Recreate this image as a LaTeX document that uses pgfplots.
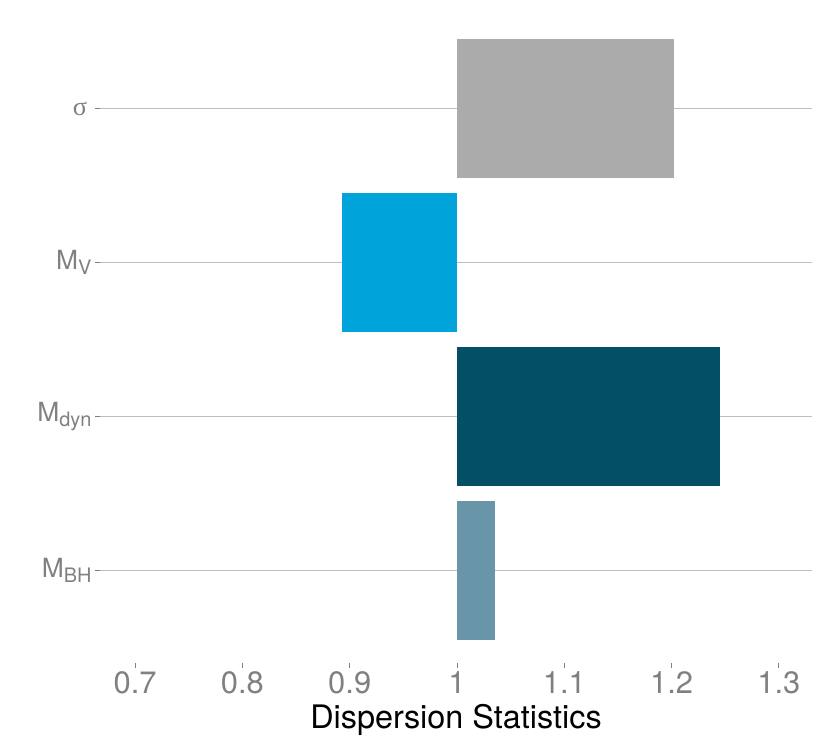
\documentclass[border=0pt]{standalone}
\usepackage{pgfplots}
\pgfplotsset{compat=1.18}
\usepackage{fontspec}
\setmainfont{TeX Gyre Heros}
\newfontfamily\serifsig{Liberation Serif}
\definecolor{gridc}{HTML}{BEBEBE}
\definecolor{tickc}{HTML}{808080}
\definecolor{csig}{HTML}{ABABAB}
\definecolor{cmv}{HTML}{00A3DA}
\definecolor{cdyn}{HTML}{024F66}
\definecolor{cbh}{HTML}{6895A8}
\newcommand{\sub}[1]{\raisebox{-5bp}{\fontsize{20}{20}\selectfont #1}}
\begin{document}
\begin{tikzpicture}
\path[use as bounding box] (0,0) rectangle (830bp,738bp);
\begin{axis}[
  at={(100bp,75bp)}, anchor=south west,
  scale only axis, width=712bp, height=646.8bp,
  xmin=0.6673, xmax=1.3308, ymin=0.4, ymax=4.6,
  axis x line*=bottom, axis y line*=left,
  axis line style={draw=none},
  tick align=outside, major tick length=5bp,
  tick style={tickc, line width=1bp},
  xtick={0.7,0.8,0.9,1,1.1,1.2,1.3},
  xticklabels={0.7,0.8,0.9,1,1.1,1.2,1.3},
  ytick={1,2,3,4},
  yticklabels={M\sub{BH}, M\sub{dyn}, M\sub{V}, {\serifsig σ\,}},
  ymajorgrids, major grid style={gridc, line width=1.4bp},
  xticklabel style={tickc, font=\fontsize{31}{31}\selectfont},
  yticklabel style={tickc, font=\fontsize{26.5}{26.5}\selectfont},
  xlabel={Dispersion Statistics},
  xlabel style={black, font=\fontsize{32.5}{32.5}\selectfont, yshift=-4bp},
]
\addplot[fill=csig, draw=none] coordinates {(1,3.55) (1.202,3.55) (1.202,4.45) (1,4.45)};
\addplot[fill=cmv, draw=none] coordinates {(0.893,2.55) (1,2.55) (1,3.45) (0.893,3.45)};
\addplot[fill=cdyn, draw=none] coordinates {(1,1.55) (1.245,1.55) (1.245,2.45) (1,2.45)};
\addplot[fill=cbh, draw=none] coordinates {(1,0.55) (1.035,0.55) (1.035,1.45) (1,1.45)};
\end{axis}
\end{tikzpicture}
\end{document}
